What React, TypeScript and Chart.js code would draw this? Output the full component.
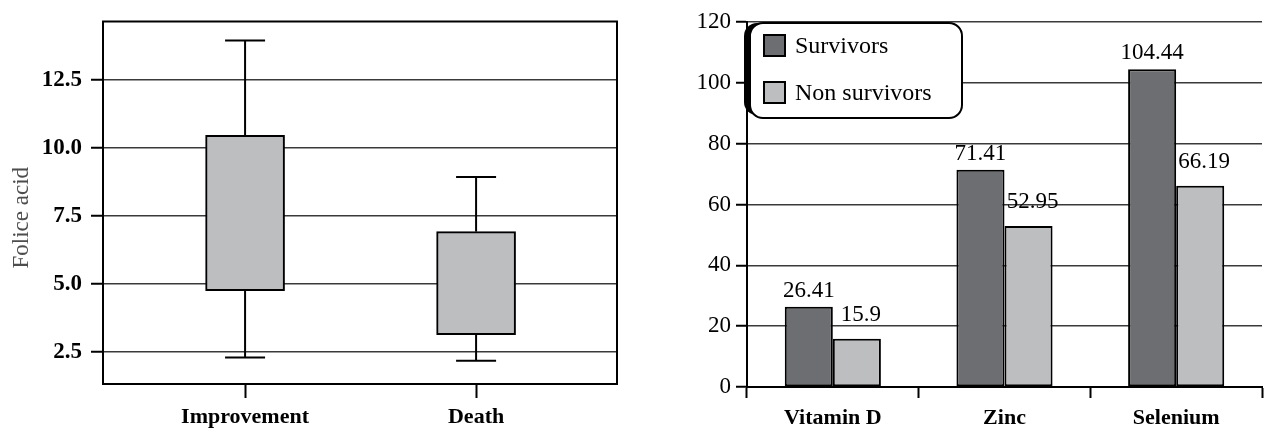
import React, { useEffect, useRef } from "react";
import { Chart, registerables } from "chart.js";

Chart.register(...registerables);

// ---- Left chart data (box plot) ----
const boxCategories = ["Improvement", "Death"];
const boxMin = [2.29, 2.17];
const boxQ1 = [4.75, 3.13];
const boxQ3 = [10.46, 6.92];
const boxMax = [13.94, 8.93];
const boxYTicks = [2.5, 5.0, 7.5, 10.0, 12.5];
const boxYTitle = "Folice acid";

// ---- Right chart data (grouped bars) ----
const barCategories = ["Vitamin D", "Zinc", "Selenium"];
const seriesNames = ["Survivors", "Non survivors"];
const survivors = [26.41, 71.41, 104.44];
const nonSurvivors = [15.9, 52.95, 66.19];

const SERIF = "'Liberation Serif', 'Times New Roman', Times, serif";
const DARK = "#6d6e71";
const LIGHT = "#bcbec0";
const GRID = "#3a3a3a";

function roundRectPath(ctx: CanvasRenderingContext2D, x: number, y: number, w: number, h: number, r: number) {
  ctx.beginPath();
  ctx.moveTo(x + r, y);
  ctx.lineTo(x + w - r, y);
  ctx.arcTo(x + w, y, x + w, y + r, r);
  ctx.lineTo(x + w, y + h - r);
  ctx.arcTo(x + w, y + h, x + w - r, y + h, r);
  ctx.lineTo(x + r, y + h);
  ctx.arcTo(x, y + h, x, y + h - r, r);
  ctx.lineTo(x, y + r);
  ctx.arcTo(x, y, x + r, y, r);
  ctx.closePath();
}

const whiskerPlugin = {
  id: "whiskers",
  afterDatasetsDraw(chart: any) {
    const { ctx } = chart;
    const xs = chart.scales.x;
    const ys = chart.scales.y;
    ctx.save();
    ctx.strokeStyle = "#000";
    ctx.lineWidth = 2;
    boxCategories.forEach((_, i) => {
      const px = xs.getPixelForValue(i);
      const seg = (a: number, b: number) => {
        ctx.beginPath();
        ctx.moveTo(px, ys.getPixelForValue(a));
        ctx.lineTo(px, ys.getPixelForValue(b));
        ctx.stroke();
      };
      seg(boxQ3[i], boxMax[i]);
      seg(boxQ1[i], boxMin[i]);
      [boxMax[i], boxMin[i]].forEach((v) => {
        const py = ys.getPixelForValue(v);
        ctx.beginPath();
        ctx.moveTo(px - 20, py);
        ctx.lineTo(px + 20, py);
        ctx.stroke();
      });
    });
    ctx.restore();
  },
};

const framePlugin = {
  id: "frame",
  afterDraw(chart: any) {
    const { ctx, chartArea } = chart;
    ctx.save();
    ctx.strokeStyle = "#000";
    ctx.lineWidth = 2;
    ctx.strokeRect(chartArea.left, chartArea.top, chartArea.right - chartArea.left, chartArea.bottom - chartArea.top);
    ctx.restore();
  },
};

const yTitlePlugin = {
  id: "yTitle",
  afterDraw(chart: any) {
    const { ctx, chartArea } = chart;
    ctx.save();
    ctx.translate(chartArea.left - 81, (chartArea.top + chartArea.bottom) / 2 + 15);
    ctx.rotate(-Math.PI / 2);
    ctx.font = `23px ${SERIF}`;
    ctx.fillStyle = "#4d4d4d";
    ctx.textAlign = "center";
    ctx.textBaseline = "middle";
    ctx.fillText(boxYTitle, 0, 0);
    ctx.restore();
  },
};

const legendPlugin = {
  id: "boxedLegend",
  afterDraw(chart: any) {
    const { ctx, chartArea } = chart;
    const x = chartArea.left + 3;
    const y = chartArea.top + 1;
    const w = 212;
    const h = 95;
    const r = 13;
    ctx.save();
    ctx.fillStyle = "#000";
    roundRectPath(ctx, x - 6, y, w, h - 3, r);
    ctx.fill();
    roundRectPath(ctx, x, y, w, h, r);
    ctx.fillStyle = "#fff";
    ctx.fill();
    ctx.lineWidth = 2;
    ctx.strokeStyle = "#000";
    ctx.stroke();
    chart.data.datasets.forEach((ds: any, i: number) => {
      const cy = y + 23 + i * 47;
      ctx.fillStyle = ds.backgroundColor;
      ctx.fillRect(x + 14, cy - 11, 21, 21);
      ctx.lineWidth = 2;
      ctx.strokeStyle = "#000";
      ctx.strokeRect(x + 14, cy - 11, 21, 21);
      ctx.fillStyle = "#000";
      ctx.font = `24px ${SERIF}`;
      ctx.textAlign = "left";
      ctx.textBaseline = "middle";
      ctx.fillText(ds.label, x + 45, cy + 1);
    });
    ctx.restore();
  },
};

const valueLabelPlugin = {
  id: "valueLabels",
  afterDatasetsDraw(chart: any) {
    const { ctx } = chart;
    const offsets = [10, 18];
    const shifts = [0, 4];
    ctx.save();
    ctx.font = `23px ${SERIF}`;
    ctx.fillStyle = "#000";
    ctx.textAlign = "center";
    ctx.textBaseline = "alphabetic";
    chart.data.datasets.forEach((ds: any, di: number) => {
      const meta = chart.getDatasetMeta(di);
      meta.data.forEach((bar: any, i: number) => {
        ctx.fillText(String(ds.data[i]), bar.x + shifts[di], bar.y - offsets[di]);
      });
    });
    ctx.restore();
  },
};

function leftConfig(): any {
  return {
    type: "bar",
    data: {
      datasets: [
        {
          data: boxCategories.map((_, i) => ({ x: i, y: [boxQ1[i], boxQ3[i]] })),
          backgroundColor: LIGHT,
          borderColor: "#000",
          borderWidth: 2,
          borderSkipped: false,
          barThickness: 79,
        },
      ],
    },
    options: {
      responsive: false,
      animation: false,
      events: [],
      layout: { padding: { top: 21.5, right: 33, left: 0, bottom: 0 } },
      plugins: { legend: { display: false }, tooltip: { enabled: false } },
      scales: {
        x: {
          type: "linear",
          min: -0.615,
          max: 1.61,
          offset: false,
          afterBuildTicks: (s: any) => {
            s.ticks = boxCategories.map((_, i) => ({ value: i }));
          },
          afterFit: (s: any) => {
            s.height = 48;
          },
          ticks: {
            callback: (v: any) => boxCategories[v] ?? "",
            font: { family: SERIF, size: 22, weight: "bold" },
            color: "#000",
            padding: 6,
            maxRotation: 0,
            autoSkip: false,
          },
          grid: {
            offset: false,
            drawOnChartArea: false,
            drawTicks: true,
            tickLength: 14,
            tickColor: "#000",
            tickWidth: 2,
            color: "#000",
          },
          border: { display: false },
        },
        y: {
          min: 1.32,
          max: 14.64,
          afterBuildTicks: (s: any) => {
            s.ticks = boxYTicks.map((v) => ({ value: v }));
          },
          afterFit: (s: any) => {
            s.width = 103;
          },
          ticks: {
            callback: (v: any) => Number(v).toFixed(1),
            font: { family: SERIF, size: 23, weight: "bold", lineHeight: 1 },
            color: "#000",
            padding: 9,
          },
          grid: {
            color: GRID,
            lineWidth: 1.5,
            tickLength: 12,
            tickColor: "#000",
            tickWidth: 2,
          },
          border: { display: false },
        },
      },
    },
    plugins: [whiskerPlugin, framePlugin, yTitlePlugin],
  };
}

function rightConfig(): any {
  return {
    type: "bar",
    data: {
      labels: barCategories,
      datasets: [
        {
          label: seriesNames[0],
          data: survivors,
          backgroundColor: DARK,
          borderColor: "#000",
          borderWidth: 2,
          borderSkipped: false,
        },
        {
          label: seriesNames[1],
          data: nonSurvivors,
          backgroundColor: LIGHT,
          borderColor: "#000",
          borderWidth: 2,
          borderSkipped: false,
        },
      ],
    },
    options: {
      responsive: false,
      animation: false,
      events: [],
      datasets: { bar: { categoryPercentage: 0.56, barPercentage: 1 } },
      layout: { padding: { top: 22, right: 2, left: 0, bottom: 0 } },
      plugins: { legend: { display: false }, tooltip: { enabled: false } },
      scales: {
        x: {
          afterFit: (s: any) => {
            s.height = 45;
          },
          ticks: {
            font: { family: SERIF, size: 22, weight: "bold" },
            color: "#000",
            padding: 7,
            maxRotation: 0,
            autoSkip: false,
          },
          grid: {
            drawOnChartArea: false,
            drawTicks: true,
            tickLength: 11,
            tickColor: "#000",
            tickWidth: 2,
            color: "#000",
          },
          border: { display: true, color: "#000", width: 2 },
        },
        y: {
          min: 0,
          max: 120,
          afterFit: (s: any) => {
            s.width = 97;
          },
          ticks: {
            stepSize: 20,
            font: { family: SERIF, size: 23 },
            color: "#000",
            padding: 5,
          },
          grid: {
            color: GRID,
            lineWidth: 1.5,
            tickLength: 11,
            tickColor: "#000",
            tickWidth: 2,
          },
          border: { display: true, color: "#000", width: 2 },
        },
      },
    },
    plugins: [valueLabelPlugin, legendPlugin],
  };
}

export default function App() {
  const leftRef = useRef<HTMLCanvasElement>(null);
  const rightRef = useRef<HTMLCanvasElement>(null);

  useEffect(() => {
    const c1 = new Chart(leftRef.current as HTMLCanvasElement, leftConfig());
    const c2 = new Chart(rightRef.current as HTMLCanvasElement, rightConfig());
    return () => {
      c1.destroy();
      c2.destroy();
    };
  }, []);

  return (
    <div
      style={{
        position: "absolute",
        left: 0,
        top: 0,
        width: 1264,
        height: 432,
        background: "#fff",
        overflow: "hidden",
      }}
    >
      <canvas
        ref={leftRef}
        width={650}
        height={432}
        style={{ position: "absolute", left: 0, top: 0, width: 650, height: 432 }}
      />
      <canvas
        ref={rightRef}
        width={614}
        height={432}
        style={{ position: "absolute", left: 650, top: 0, width: 614, height: 432 }}
      />
    </div>
  );
}
